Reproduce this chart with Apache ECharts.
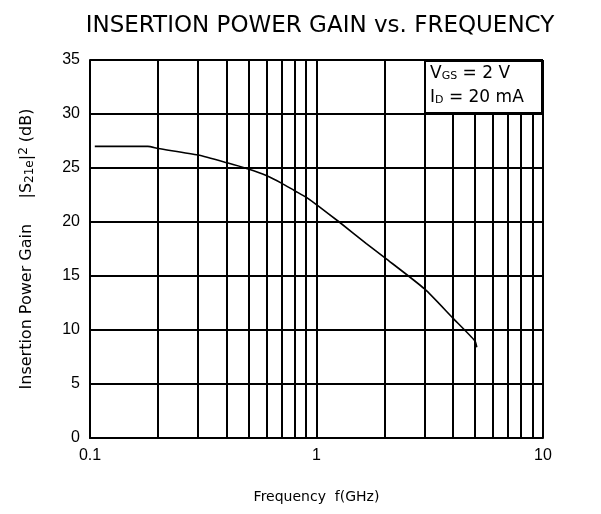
<!DOCTYPE html>
<html>
<head>
<meta charset="utf-8">
<script src="https://cdn.jsdelivr.net/npm/echarts@6/dist/echarts.min.js"></script>
<style>
  html, body { margin: 0; padding: 0; background: #fff; }
  #chart { width: 601px; height: 514px; }
</style>
</head>
<body>
<div id="chart"></div>
<script>
// frequency in GHz, gain in dB
const freqs = [0.105, 0.18, 0.2, 0.3, 0.4, 0.5, 0.6, 0.7, 0.8, 0.9, 1.0, 1.26, 1.66, 2, 3, 4, 5, 5.1];
const gains = [27.0, 27.0, 26.8, 26.2, 25.5, 24.9, 24.3, 23.6, 22.9, 22.3, 21.6, 20.0, 18.0, 16.7, 13.8, 11.1, 9.0, 8.4];
const minorFreqs = [0.2, 0.3, 0.4, 0.5, 0.6, 0.7, 0.8, 0.9, 2, 3, 4, 5, 6, 7, 8, 9];
const gainTicks = [0, 5, 10, 15, 20, 25, 30, 35];

const chart = echarts.init(document.getElementById('chart'));
const font = 'Liberation Sans, Arial, sans-serif';
const wide = 'DejaVu Sans, sans-serif';

const option = {
  backgroundColor: '#fff',
  animation: false,
  title: {
    text: 'INSERTION POWER GAIN vs. FREQUENCY',
    left: 315,
    top: 10,
    textAlign: 'center',
    textStyle: { fontFamily: wide, fontSize: 23, fontWeight: 'normal', color: '#000' },
  },
  grid: { left: 90, right: 58, top: 60, bottom: 76 },
  xAxis: {
    type: 'log',
    logBase: 10,
    min: 0.1,
    max: 10,
    name: 'Frequency  f(GHz)',
    nameLocation: 'middle',
    nameGap: 52,
    nameTextStyle: { fontFamily: wide, fontSize: 14, color: '#000' },
    axisLine: { lineStyle: { color: '#000', width: 2 } },
    axisTick: { show: false },
    axisLabel: {
      fontFamily: font, fontSize: 16, color: '#000', margin: 10,
      formatter: (v) => String(v),
    },
    splitLine: { show: true, lineStyle: { color: '#000', width: 2 } },
  },
  yAxis: {
    type: 'value',
    min: 0,
    max: gainTicks[gainTicks.length - 1],
    interval: 5,
    name: 'Insertion Power Gain     |S{sub|21e}|{sup|2} (dB)',
    nameLocation: 'middle',
    nameGap: 54,
    nameTextStyle: {
      fontFamily: wide, fontSize: 16, color: '#000',
      rich: {
        sub: { fontFamily: wide, fontSize: 12, verticalAlign: 'bottom', padding: [6, 0, 0, 0] },
        sup: { fontFamily: wide, fontSize: 12, verticalAlign: 'top', padding: [0, 0, 6, 0] },
      },
    },
    axisLine: { show: true, lineStyle: { color: '#000', width: 2 } },
    axisTick: { show: false },
    axisLabel: { fontFamily: font, fontSize: 16, color: '#000', margin: 10 },
    splitLine: { show: true, lineStyle: { color: '#000', width: 2 } },
  },
  series: [
    {
      type: 'line',
      data: freqs.map((f, i) => [f, gains[i]]),
      symbol: 'none',
      smooth: 0.2,
      lineStyle: { color: '#000', width: 1.6 },
      z: 5,
      markLine: {
        silent: true,
        symbol: 'none',
        label: { show: false },
        lineStyle: { color: '#000', width: 2, type: 'solid' },
        data: minorFreqs.map((f) => ({ xAxis: f })),
        z: 1,
      },
    },
  ],
  graphic: [
    {
      type: 'rect',
      shape: { x: 425, y: 61, width: 117, height: 52 },
      style: { fill: '#fff', stroke: '#000', lineWidth: 2 },
      z: 10,
    },
    {
      type: 'text',
      x: 430,
      y: 65,
      z: 11,
      style: {
        text: 'V{sub|GS} = 2 V',
        font: '17px ' + wide,
        fill: '#000',
        rich: { sub: { fontSize: 11, fontFamily: wide, verticalAlign: 'bottom', padding: [6, 0, 0, 0] } },
      },
    },
    {
      type: 'text',
      x: 430,
      y: 89,
      z: 11,
      style: {
        text: 'I{sub|D} = 20 mA',
        font: '17px ' + wide,
        fill: '#000',
        rich: { sub: { fontSize: 11, fontFamily: wide, verticalAlign: 'bottom', padding: [6, 0, 0, 0] } },
      },
    },
  ],
};

chart.setOption(option);
</script>
</body>
</html>
